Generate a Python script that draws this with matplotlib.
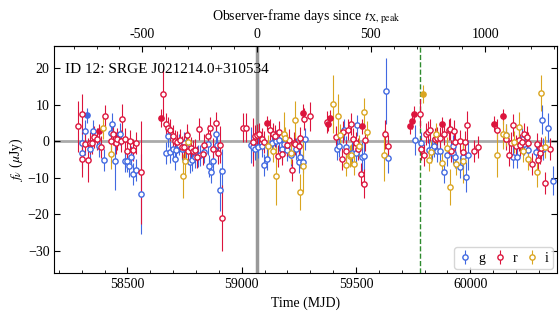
import matplotlib
matplotlib.use('Agg')
import matplotlib.pyplot as plt
import numpy as np

plt.rcParams['font.family'] = ['Liberation Serif', 'DejaVu Serif']
plt.rcParams['mathtext.fontset'] = 'stix'
plt.rcParams['font.size'] = 10

# peak of the X-ray light curve and the dashed marker (MJD)
t_peak = 59065
t_mark = 59780

# g band: mjd, flux (uJy), error
g_mjd = [58299, 58303, 58315, 58334, 58351, 58377, 58398, 58427, 58434, 58447, 58467, 58489, 58496, 58508,
         58517, 58525, 58537, 58560, 58668, 58678, 58688, 58700, 58708, 58714, 58726, 58737, 58747, 58758,
         58772, 58784, 58795, 58808, 58818, 58833, 58852, 58857, 58867, 58874, 58889, 58893, 58903, 58913,
         59040, 59048, 59060, 59073, 59089, 59096, 59109, 59133, 59150, 59164, 59174, 59186, 59198, 59216,
         59237, 59249, 59256, 59266, 59277, 59416, 59426, 59448, 59455, 59484, 59500, 59506, 59525, 59534,
         59629, 59641, 59760, 59783, 59818, 59832, 59841, 59854, 59868, 59883, 59898, 59922, 59924, 59934,
         59956, 59966, 59981, 59989, 60155, 60188, 60203, 60225, 60234, 60254, 60286, 60312, 60320, 60338,
         60363]
g_flux = [-0.6, -3.3, 2.7, -2.0, 2.8, -1.3, -5.1, 2.3, 4.8, -5.4, 2.1, -5.4, -5.4, -6.8,
          -4.4, -8.9, -7.8, -14.4, -3.2, 1.4, -2.9, -2.2, -4.9, -2.4, -0.9, -2.2, -0.6, -1.5,
          -5.6, -5.1, -4.4, -4.1, -3.9, -2.9, -0.8, -6.7, -8.5, -5.4, 1.9, -1.1, -13.2, -8.1,
          -1.0, -1.5, -2.0, -1.5, -1.4, -6.5, -4.9, -0.5, 0.0, 0.3, -2.2, -0.8, -2.4, -3.8,
          -2.0, -5.6, -4.2, -5.8, 0.5, -2.2, -1.4, 3.2, -1.5, -3.2, -3.3, 4.3, -4.2, -4.1,
          13.8, -4.7, 0.3, -0.5, -2.4, -2.2, -1.4, -2.6, -2.6, -8.5, -3.8, -3.1, -1.4, -4.4,
          -7.1, -4.4, -9.8, -3.8, 1.6, -4.4, -4.4, 0.7, -0.8, -2.4, -2.9, 5.9, -2.0, 3.7,
          -10.8]
g_err = [3, 4, 3, 3, 3, 3, 3, 3, 3, 8, 3, 3, 3, 3,
         3, 3, 3, 11, 3, 3, 3, 3, 3, 3, 3, 3, 3, 3,
         3, 3, 3, 3, 3, 3, 3, 3, 3, 3, 4, 3, 6, 6,
         5, 3, 3, 3, 3, 3, 3, 3, 3, 3, 3, 3, 3, 3,
         3, 3, 3, 3, 3, 3, 3, 3, 3, 3, 3, 3, 4, 4,
         9, 4, 4, 3, 3, 3, 3, 3, 3, 3, 3, 3, 3, 3,
         3, 3, 4, 4, 3, 3, 3, 3, 3, 3, 3, 4, 3, 4,
         4]
g_det_mjd = [58325]
g_det_flux = [7.1]
g_det_err = [2]

# r band
r_mjd = [58284, 58299, 58303, 58315, 58329, 58335, 58347, 58355, 58368, 58386, 58401, 58427, 58438, 58449,
         58456, 58470, 58477, 58490, 58496, 58512, 58525, 58538, 58560, 58656, 58668, 58678, 58688, 58700,
         58708, 58717, 58729, 58737, 58747, 58761, 58767, 58778, 58787, 58795, 58804, 58813, 58830, 58835,
         58852, 58859, 58874, 58886, 58894, 58903, 58912, 59007, 59019, 59048, 59056, 59066, 59077, 59087,
         59099, 59125, 59135, 59146, 59157, 59164, 59174, 59196, 59205, 59218, 59227, 59234, 59249, 59256,
         59273, 59297, 59372, 59414, 59440, 59443, 59456, 59466, 59477, 59487, 59501, 59510, 59520, 59534,
         59538, 59626, 59641, 59779, 59786, 59799, 59806, 59815, 59825, 59844, 59854, 59868, 59886, 59905,
         59913, 59917, 59927, 59934, 59956, 59966, 59977, 59985, 60018, 60033, 60116, 60155, 60167, 60177,
         60186, 60201, 60211, 60218, 60228, 60236, 60247, 60254, 60268, 60290, 60298, 60305, 60310, 60327,
         60349]
r_flux = [4.1, 7.5, -4.9, -0.8, -5.1, -0.6, -0.5, 1.2, 0.5, -1.7, 6.8, 0.0, 2.1, -0.6,
          0.5, 0.1, 6.1, 0.7, -2.7, 0.0, -2.4, -0.4, -8.5, 12.9, 4.6, 3.7, 3.0, 1.4,
          0.0, -0.2, 0.3, -1.7, -1.7, 1.6, -2.6, -1.8, -2.7, -2.5, -4.2, 3.3, -3.5, -1.1,
          1.4, 3.7, -2.2, 5.0, -3.2, -0.9, -20.9, 3.7, 3.7, -0.2, 1.4, 1.6, 1.9, 0.7,
          -0.2, 3.2, 2.1, 1.4, -4.1, 2.5, -3.5, -1.1, 0.3, -7.8, -0.5, -0.8, -1.4, 1.0,
          6.1, 6.8, 5.2, 1.2, -4.9, 2.5, -2.7, 3.2, 4.6, 0.5, -0.5, -2.0, -9.0, -11.6,
          0.3, 1.9, -1.4, 7.5, -2.2, -3.8, 1.9, 2.5, 3.0, 0.5, 1.0, 1.0, 2.1, 3.2,
          3.4, -2.6, 2.8, -0.2, 0.0, -2.9, -0.2, 4.3, -2.7, -1.7, 3.2, 0.7, -3.8, -0.5,
          4.5, -1.4, 0.3, -1.1, -0.2, 2.1, 1.2, -0.6, -6.3, -0.8, -5.1, -3.3, -1.9, -11.4,
          -2.2]
r_err = [7, 5.5, 5, 3, 6, 3, 3, 3, 3, 3, 3, 3, 3, 3,
         3, 3, 4, 3, 3, 3, 3, 3, 14, 7, 3, 3, 3, 3,
         3, 3, 3, 3, 3, 3, 3, 3, 3, 3, 3, 3, 3, 3,
         3, 3, 3, 3, 3, 5, 9, 4, 4, 6.5, 3, 3, 3, 3,
         3, 3, 3, 3, 3, 3, 3, 3, 3, 3, 3, 3, 3, 3,
         3, 4, 3, 3, 3, 3, 3, 3, 3, 3, 3, 3, 3, 4,
         3, 4, 3, 4, 3, 3, 3, 3, 3, 3, 3, 3, 3, 3,
         3, 3, 3, 3, 3, 3, 3, 4, 3, 3, 3, 3, 3, 3,
         3, 3, 3, 3, 3, 3, 3, 3, 3, 3, 3, 3, 3, 3,
         3]
r_det_mjd = [58377, 58646, 59109, 59266, 59378, 59387, 59527, 59735, 59745, 59754, 59876, 60103, 60145]
r_det_flux = [2.7, 6.4, 5.0, 7.8, 4.8, 6.4, 4.1, 4.1, 5.4, 7.5, 4.6, 4.8, 6.8]
r_det_err = [2, 2.5, 2, 2.5, 2, 2, 2, 2, 2, 2, 2, 2, 2]

# i band
i_mjd = [58395, 58429, 58742, 58751, 58765, 59113, 59135, 59148, 59183, 59188, 59215, 59231, 59255, 59266,
         59397, 59423, 59429, 59455, 59475, 59477, 59491, 59513, 59535, 59549, 59623, 59819, 59828, 59851,
         59876, 59898, 59910, 59937, 59966, 60116, 60141, 60155, 60192, 60211, 60230, 60254, 60290, 60308,
         60327]
i_flux = [3.7, -3.5, -9.5, -5.4, -0.2, -1.4, -2.7, -9.5, 2.1, 1.0, -3.1, 5.9, -13.9, -6.8,
          10.2, 7.0, 1.6, -6.5, -4.0, -3.8, -6.3, -1.4, 7.9, 2.5, -3.8, -5.1, -2.9, 2.1,
          -6.0, -1.8, -12.5, -6.3, -5.4, -3.8, 1.9, 1.6, -0.2, 3.9, -2.7, -4.9, -8.5, 13.2,
          -1.7]
i_err = [3, 4, 6, 4, 3, 3, 3, 8, 6, 3, 3, 5, 5, 7,
         8, 6, 3, 3, 3, 3, 3, 3, 4, 3, 7, 3, 3, 3,
         3, 3, 5, 3, 6, 6, 4, 3, 3, 4, 3, 3, 4, 5,
         3]
i_det_mjd = [59793]
i_det_flux = [12.9]
i_det_err = [2.5]

bands = ['g', 'r', 'i']
colors = {'g': '#4169e1', 'r': '#dc143c', 'i': '#daa520'}
data = {
    'g': (g_mjd, g_flux, g_err, g_det_mjd, g_det_flux, g_det_err),
    'r': (r_mjd, r_flux, r_err, r_det_mjd, r_det_flux, r_det_err),
    'i': (i_mjd, i_flux, i_err, i_det_mjd, i_det_flux, i_det_err),
}

fig = plt.figure(figsize=(5.6, 3.2), dpi=100)
ax = fig.add_axes([0.097, 0.147, 0.898, 0.709])

ax.axhline(0, color='#aaaaaa', lw=2, zorder=0)
ax.axvline(t_peak, color='#999999', lw=2.5, zorder=0)
ax.axvline(t_mark, color='#2e8b2e', lw=1, ls='--', zorder=0)

for b in bands:
    mjd, flux, err, dmjd, dflux, derr = data[b]
    c = colors[b]
    ax.errorbar(mjd, flux, yerr=err, fmt='o', ms=3.8, mfc='white', mec=c, mew=1,
                ecolor=c, elinewidth=0.8, label=b)
    ax.errorbar(dmjd, dflux, yerr=derr, fmt='o', ms=3.8, mfc=c, mec=c, mew=1,
                ecolor=c, elinewidth=0.8)

ax.set_xlim(58180, 60380)
ax.set_ylim(-36, 26)
ax.set_xlabel('Time (MJD)')
ax.set_ylabel(r'$f_\nu$ ($\mu$Jy)', labelpad=2)
ax.set_xticks([58500, 59000, 59500, 60000])
ax.set_xticks(np.arange(58200, 60400, 100), minor=True)
ax.set_yticks([-30, -20, -10, 0, 10, 20])
ax.tick_params(which='both', direction='in', top=False, right=True)
ax.tick_params(which='major', length=4)
ax.tick_params(which='minor', length=2)

top = ax.secondary_xaxis('top', functions=(lambda x: x - t_peak, lambda x: x + t_peak))
top.set_xticks([-500, 0, 500, 1000])
top.set_xticklabels(['-500', '0', '500', '1000'])
top.set_xticks(np.arange(-800, 1400, 100), minor=True)
top.tick_params(which='both', direction='in')
top.tick_params(which='major', length=4)
top.tick_params(which='minor', length=2)
top.set_xlabel(r'Observer-frame days since $t_{\rm X,\,peak}$', labelpad=6)

ax.text(0.022, 0.925, 'ID 12: SRGE J021214.0+310534', transform=ax.transAxes,
        fontsize=11, va='top', ha='left')

leg = ax.legend(loc='lower right', ncol=3, fontsize=10, handletextpad=0.4,
                columnspacing=0.6, borderpad=0.3, handlelength=1.0, framealpha=0.8,
                borderaxespad=0.3)

fig.savefig('out.png', dpi=100)
